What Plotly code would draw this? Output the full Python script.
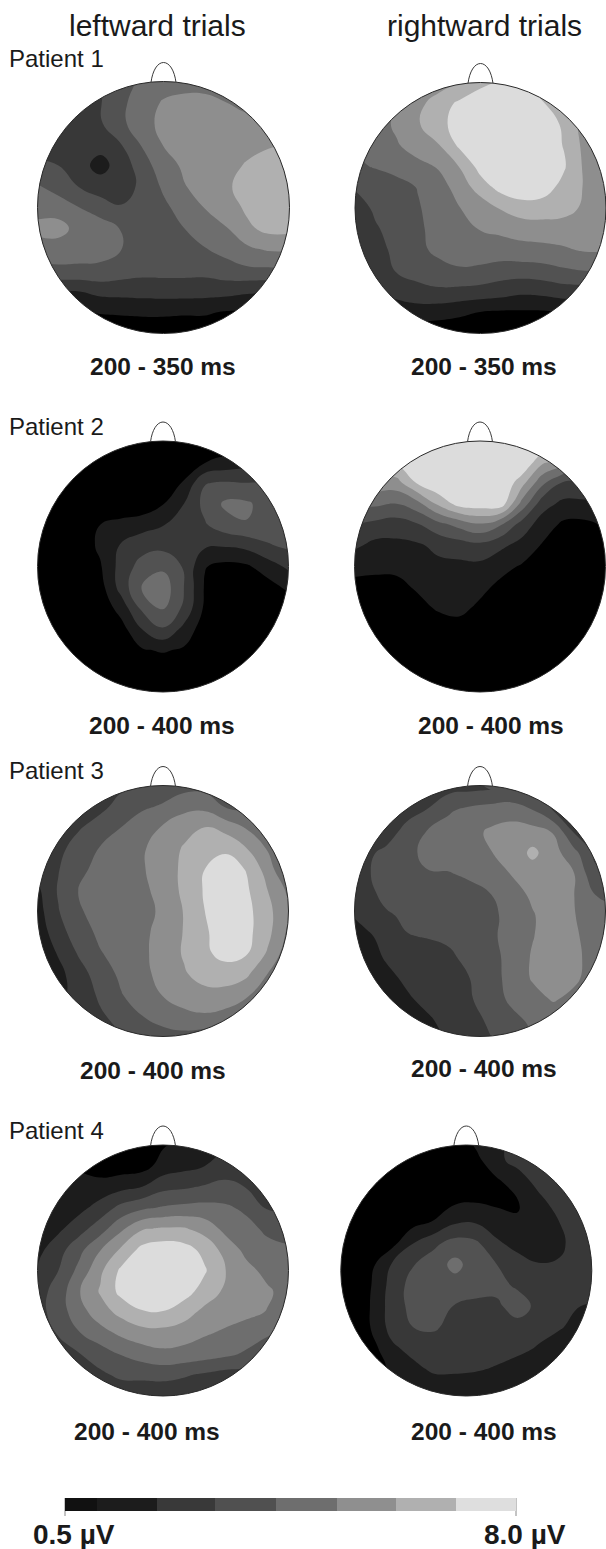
import math
import plotly.graph_objects as go

BAND_COLORS = ["#000000", "#1c1c1c", "#383838", "#525252", "#6e6e6e", "#8e8e8e", "#b0b0b0", "#dcdcdc"]
BAR_COLORS = ["#111111", "#1c1c1c", "#393939", "#505050", "#6e6e6e", "#8f8f8f", "#b0b0b0", "#dedede"]
BAR_EDGES = [65, 97, 157, 215, 276, 337, 396, 456, 516]
BAR_LABELS = ["0.5 µV", "8.0 µV"]
COLUMN_TITLES = ["leftward trials", "rightward trials"]
PATIENTS = ["Patient 1", "Patient 2", "Patient 3", "Patient 4"]
WINDOWS = ["200 - 350 ms", "200 - 350 ms", "200 - 400 ms", "200 - 400 ms",
           "200 - 400 ms", "200 - 400 ms", "200 - 400 ms", "200 - 400 ms"]

P1_LEFT = [
 [2.5,2.5,2.5,2.8,3.5,4.2,4.5,4.6,4.7,4.6,4.5,4.5,4.5],
 [2.4,2.4,2.4,2.95,3.8,4.5,5.1,5.3,5.2,5.0,4.7,4.6,4.6],
 [2.3,2.3,2.3,2.9,3.8,4.6,5.3,5.5,5.6,5.6,5.3,5.3,5.3],
 [2.5,2.3,2.2,2.3,3.0,4.1,5.05,5.4,5.6,5.7,5.7,5.9,6.0],
 [3.2,3.0,2.3,1.7,2.4,3.6,4.5,5.2,5.5,5.7,6.1,6.4,6.5],
 [4.1,3.6,2.95,2.4,2.4,3.3,4.15,4.95,5.4,5.85,6.4,6.6,6.6],
 [4.6,4.5,4.0,3.6,3.1,3.3,3.8,4.4,5.05,5.5,6.2,6.6,6.6],
 [5.3,5.4,4.6,4.4,3.95,3.4,3.4,4.0,4.5,4.95,5.8,6.3,6.3],
 [4.5,4.5,4.4,4.3,4.0,3.4,3.3,3.5,3.95,4.3,4.8,5.1,5.1],
 [3.7,3.8,3.8,3.8,3.5,3.3,3.3,3.3,3.3,3.6,3.8,3.8,3.9],
 [2.0,2.0,2.0,2.3,2.35,2.4,2.45,2.45,2.4,2.35,2.15,2.1,2.1],
 [0.9,0.9,0.9,1.05,1.1,1.15,1.15,1.1,1.1,0.9,0.9,0.9,0.9],
 [0.4,0.4,0.4,0.4,0.4,0.4,0.4,0.4,0.4,0.4,0.4,0.4,0.4],
]
P1_RIGHT = [
 [4.5,4.5,4.8,5.2,5.5,6.0,6.8,7.1,7.0,6.5,6.0,5.8,5.8],
 [4.5,4.6,5.0,5.7,6.5,7.2,7.5,7.6,7.5,7.05,6.3,5.8,5.7],
 [4.2,4.5,5.2,5.9,6.7,7.4,7.6,7.7,7.7,7.5,6.85,5.5,5.5],
 [4.1,4.3,4.9,5.5,5.95,7.2,7.6,7.7,7.7,7.5,6.95,5.7,5.6],
 [3.8,4.1,4.4,4.7,5.1,6.05,7.4,7.7,7.7,7.5,7.1,5.8,5.6],
 [3.1,3.3,3.6,4.05,4.6,5.4,6.5,7.4,7.6,7.4,6.7,5.9,5.7],
 [2.5,3.2,3.6,3.9,4.5,4.98,5.4,6.1,6.6,6.6,6.4,5.8,5.6],
 [2.3,2.9,3.4,3.85,4.3,4.7,5.05,5.2,5.4,5.5,5.5,5.4,5.4],
 [2.0,2.6,3.3,3.8,4.2,4.4,4.5,4.6,4.7,4.75,4.9,5.1,5.1],
 [2.0,2.1,3.1,3.4,3.7,3.9,3.8,3.5,3.5,3.6,3.85,4.0,4.0],
 [2.0,2.0,2.3,2.65,2.8,2.7,2.6,2.45,2.2,2.3,2.5,2.5,2.5],
 [1.5,1.5,1.5,1.5,1.4,1.2,0.95,0.85,0.85,0.85,1.0,1.0,1.0],
 [0.3,0.3,0.3,0.3,0.3,0.3,0.3,0.3,0.3,0.3,0.3,0.3,0.3],
]
P2_LEFT = [
 [0.3,0.3,0.3,0.3,0.3,0.3,0.3,0.3,0.3,0.3,0.3,0.3,0.3],
 [0.3,0.3,0.3,0.3,0.3,0.3,0.3,0.3,0.95,1.3,1.6,1.6,1.6],
 [0.3,0.3,0.3,0.3,0.3,0.3,0.3,1.1,2.95,3.1,3.0,3.1,3.1],
 [0.3,0.3,0.3,0.3,0.3,0.3,0.95,2.0,3.3,4.2,4.15,3.6,3.6],
 [0.3,0.3,0.3,1.0,1.3,1.6,1.95,2.4,2.9,3.6,3.95,3.6,3.5],
 [0.3,0.3,0.4,1.2,2.1,2.6,2.7,2.8,2.15,2.1,2.3,2.9,3.2],
 [0.3,0.3,0.3,0.9,2.4,3.4,3.8,2.9,1.05,0.7,0.85,1.5,2.2],
 [0.3,0.3,0.3,0.6,2.4,4.05,4.6,3.0,0.9,0.3,0.3,0.6,1.2],
 [0.3,0.3,0.3,0.3,1.4,3.2,4.05,2.8,0.8,0.3,0.3,0.3,0.3],
 [0.3,0.3,0.3,0.3,0.6,2.0,2.9,1.7,0.4,0.3,0.3,0.3,0.3],
 [0.3,0.3,0.3,0.3,0.3,0.9,1.1,0.85,0.3,0.3,0.3,0.3,0.3],
 [0.3,0.3,0.3,0.3,0.3,0.3,0.3,0.3,0.3,0.3,0.3,0.3,0.3],
 [0.3,0.3,0.3,0.3,0.3,0.3,0.3,0.3,0.3,0.3,0.3,0.3,0.3],
]
P2_RIGHT = [
 [7,8,8,8,8,8,8,8,8,8,7,6,5],
 [7,7,7.2,8,8,8,8,8,8,6.2,5.5,4,3],
 [5.6,5.6,5.6,7.1,7.9,8,8,8,6.4,4.2,2.85,2.8,2.8],
 [4.2,4.2,4.0,4.65,6.2,7.4,7.6,7.6,4.65,2.4,1.75,1.8,1.8],
 [3,2.7,2.5,2.9,3.65,4.3,4.85,4.05,2.55,1.5,0.8,0.75,1.1],
 [2.2,1.7,1.75,1.85,2.25,2.5,2.7,2.2,1.65,0.9,0.3,0.3,0.5],
 [1.2,1.2,1.2,1.5,1.75,1.75,1.75,1.3,0.9,0.4,0.3,0.3,0.3],
 [0.8,0.7,0.75,1.1,1.35,1.5,1.25,0.75,0.4,0.3,0.3,0.3,0.3],
 [0.4,0.4,0.4,0.7,1.1,1.25,0.8,0.4,0.3,0.3,0.3,0.3,0.3],
 [0.3,0.3,0.3,0.3,0.5,0.6,0.3,0.3,0.3,0.3,0.3,0.3,0.3],
 [0.3,0.3,0.3,0.3,0.3,0.3,0.3,0.3,0.3,0.3,0.3,0.3,0.3],
 [0.3,0.3,0.3,0.3,0.3,0.3,0.3,0.3,0.3,0.3,0.3,0.3,0.3],
 [0.3,0.3,0.3,0.3,0.3,0.3,0.3,0.3,0.3,0.3,0.3,0.3,0.3],
]
P3_LEFT = [
 [2,2,2,2.5,2.8,3.1,3.5,3.6,3.6,3.5,3.3,3.2,3],
 [2.3,2.3,2.3,2.7,3.4,3.85,4.1,4.7,4.7,3.9,3.5,3.4,3.3],
 [2.2,2.3,2.9,3.5,4.0,4.5,5.1,5.6,6.0,5.6,4.9,3.6,3.3],
 [2.3,2.7,3.5,4.05,4.5,4.9,5.4,6.1,6.5,6.85,6.0,4.9,3.9],
 [2.4,2.95,3.85,4.2,4.5,4.9,5.5,6.2,7.0,7.4,6.95,5.55,3.8],
 [1.8,3.1,4.05,4.3,4.5,4.75,5.4,6.2,7.1,7.5,7.15,6.0,4.8],
 [1.6,2.95,3.95,4.2,4.4,4.65,5.2,6.05,7.0,7.5,7.3,6.3,5.1],
 [1.4,2.6,3.6,4.2,4.5,4.8,5.3,6.05,6.9,7.4,7.3,6.3,4.8],
 [1.2,2.1,3.15,3.95,4.35,4.8,5.4,6.1,6.85,7.3,7.1,5.9,4.4],
 [1.0,1.7,2.6,3.5,4.2,4.75,5.3,5.9,6.4,6.6,6.2,5.0,3.9],
 [1.5,1.8,2.3,3.2,3.95,4.5,5.05,5.5,5.7,5.6,5.2,3.9,3.5],
 [2,2,2.3,2.85,3.4,4.0,4.45,4.75,4.9,4.7,4.0,3.4,3.2],
 [2.5,2.5,2.5,2.7,2.9,3.2,3.6,3.7,3.5,3.3,3,3,3],
]
P3_RIGHT = [
 [2.5,2.5,2.5,2.5,2.6,2.8,3,3.1,3.1,3,2.8,2.6,2.5,2.5],
 [2.5,2.5,2.5,2.6,2.7,2.8,2.9,3.0,3.0,2.9,2.8,2.7,2.6,2.5],
 [2.6,2.6,2.6,2.7,3.05,3.9,4.3,4.5,4.7,4.1,3.0,2.9,2.8,2.8],
 [2.7,2.7,2.6,3.3,4.1,4.4,4.7,5.15,5.3,5.4,4.95,2.9,2.8,2.8],
 [2.7,2.8,3.2,3.8,4.2,4.4,4.7,4.97,5.3,6.25,5.4,4.3,2.8,2.8],
 [2.8,2.85,3.4,3.7,3.95,3.95,4.15,4.5,5.05,5.5,5.6,5.0,3.2,3.0],
 [2.0,2.6,3.3,3.5,3.5,3.55,3.7,3.98,4.5,5.2,5.6,5.0,4.0,3.8],
 [1.8,2.3,2.85,3.2,3.3,3.35,3.5,3.8,4.3,4.9,5.6,5.05,4.3,4.2],
 [1.6,1.8,2.3,2.95,3.05,3.2,3.5,3.85,4.3,4.95,5.5,5.2,4.4,4.3],
 [1.4,1.5,2.1,2.4,2.6,2.8,3.3,3.7,4.3,5.1,5.5,5.3,4.5,4.3],
 [1.3,1.3,1.7,2.2,2.5,2.75,3.0,3.65,4.3,5.1,5.5,5.2,4.5,4.3],
 [1.3,1.3,1.5,1.85,2.3,2.65,2.9,3.5,4.2,4.6,5.1,4.7,4.4,4.3],
 [1.3,1.3,1.3,1.5,1.85,2.35,2.7,3.15,3.7,4.2,4.3,4.3,4.3,4.3],
 [1.3,1.3,1.3,1.3,1.6,2.1,2.5,2.95,3.5,3.8,4.0,4.0,4.0,4.0],
]
P4_LEFT = [
 [1.2,1.2,1.2,1.1,0.8,0.7,0.9,1.3,1.6,2,2.3,2.5,2.5],
 [1.1,1.1,0.9,0.5,0.5,0.6,1.4,1.7,2.0,2.4,2.7,2.9,2.9],
 [1.3,1.3,1.3,1.4,1.7,2.0,2.7,2.85,3.1,3.3,2.95,2.8,2.6],
 [1.6,1.6,1.7,2.4,3.3,3.8,4.1,4.25,4.3,4.15,3.8,2.9,2.8],
 [1.5,1.8,2.6,3.55,4.8,5.9,6.1,6.1,5.6,4.7,4.3,3.8,3.7],
 [1.7,2.6,3.7,4.95,6.15,7.3,7.6,7.4,6.7,5.6,4.7,4.3,4.1],
 [2.1,3.0,4.3,5.8,7.2,7.8,7.9,7.8,7.1,6.0,5.3,4.7,4.3],
 [2.6,3.4,4.95,6.1,7.3,7.8,7.8,7.4,6.6,5.8,5.5,5.15,4.6],
 [2.6,3.5,4.6,5.55,6.3,6.9,6.95,6.45,5.7,5.4,5.25,4.95,4.3],
 [2.3,3.1,3.95,4.6,5.2,5.6,5.65,5.45,5.1,4.85,4.5,4.2,3.7],
 [2,2.4,2.95,3.5,4.05,4.45,4.75,4.65,4.45,4.2,3.85,3,2.8],
 [2,2.2,2.3,2.8,3.2,3.25,3.3,3.1,2.85,2.6,2.5,2.5,2.4],
 [2.3,2.3,2.3,2.3,2.3,2.3,2.3,2.3,2.3,2.3,2.3,2.3,2.3],
]
P4_RIGHT = [
 [0.3,0.3,0.3,0.3,0.3,0.3,0.5,1.3,1.8,2.2,2.4,2.4,2.4,2.4],
 [0.3,0.3,0.3,0.3,0.3,0.3,0.3,0.7,1.8,2.3,2.5,2.5,2.5,2.5],
 [0.3,0.3,0.3,0.3,0.3,0.3,0.3,0.3,0.85,1.6,2.3,2.5,2.5,2.5],
 [0.3,0.3,0.3,0.3,0.3,0.3,0.85,0.95,0.85,0.95,1.75,2.4,2.6,2.6],
 [0.3,0.3,0.3,0.3,0.7,1.1,1.9,1.95,1.4,1.05,1.35,2.0,2.5,2.6],
 [0.3,0.3,0.3,0.7,2.0,2.8,3.4,3.2,2.2,1.6,1.45,1.8,2.5,2.6],
 [0.3,0.3,0.75,2.1,2.95,3.5,4.3,3.5,3.0,2.5,2.05,2.1,2.6,2.7],
 [0.3,0.3,1.0,2.4,3.4,3.6,3.6,3.5,3.3,2.85,2.7,2.7,2.7,2.7],
 [0.3,0.3,1.05,2.5,3.3,3.3,2.95,2.7,2.8,3.5,2.7,2.3,2.0,1.9],
 [0.3,0.3,1.05,2.4,3.0,3.15,2.6,2.5,2.6,2.6,2.4,2.1,1.6,1.6],
 [0.3,0.3,0.6,1.8,2.35,2.4,2.4,2.4,2.4,2.3,1.9,1.4,1.4,1.4],
 [0.3,0.3,0.6,1.2,1.7,2.2,2.2,2.1,1.9,1.5,1.3,1.3,1.3,1.3],
 [0.3,0.3,1.3,1.3,1.3,1.3,1.3,1.3,1.3,1.3,1.3,1.3,1.3,1.3],
 [0.3,0.3,1.3,1.3,1.3,1.3,1.3,1.3,1.3,1.3,1.3,1.3,1.3,1.3],
]

MAPS = [P1_LEFT, P1_RIGHT, P2_LEFT, P2_RIGHT, P3_LEFT, P3_RIGHT, P4_LEFT, P4_RIGHT]

# head centre x, centre y, radius, grid start (in radii)
HEADS = [
    (163.5, 207.5, 126, -1.0, -1.0), (480.5, 208, 125.5, -1.0, -1.0),
    (163, 566.5, 125.5, -1.0, -1.0), (480, 566.5, 125.5, -1.0, -1.0),
    (163, 911, 125.5, -1.0, -1.0), (480, 911, 125.5, -1.082, -1.13),
    (163, 1270.5, 125.5, -1.0, -1.0), (466.3, 1270.5, 125.5, -1.09, -1.048),
]
WINDOW_POS = [(163, 366), (484, 366), (162, 725), (491, 725), (153, 1070), (484, 1068), (147, 1431), (484, 1431)]
PATIENT_Y = [58, 426, 770, 1130]
STEP = 1 / 6

n = len(BAND_COLORS)
SCALE = [[k / (n - 1), c] for k, c in enumerate(BAND_COLORS)]
BAR_SCALE = [[k / (n - 1), c] for k, c in enumerate(BAR_COLORS)]

fig = go.Figure()
shapes = []
annotations = []
INK = "#1a1a1a"
FONT = "Liberation Sans"


def head_mask(cx, cy, r, pad=30):
    """White frame with a round window, drawn as one keyhole outline."""
    x0, x1, y0, y1 = cx - r - pad, cx + r + pad, cy - r - pad, cy + r + pad
    pts = [f"M {x0},{y0}", f"L {x1},{y0}", f"L {x1},{y1}", f"L {x0},{y1}", f"L {x0},{cy}"]
    for i in range(181):
        a = math.pi - 2 * math.pi * i / 180
        pts.append(f"L {cx + r * math.cos(a):.2f},{cy + r * math.sin(a):.2f}")
    pts.append(f"L {x0},{cy} Z")
    return " ".join(pts)


for z, (cx, cy, r, ux, uy) in zip(MAPS, HEADS):
    xs = [cx + (ux + i * STEP) * r for i in range(len(z[0]))]
    ys = [cy + (uy + j * STEP) * r for j in range(len(z))]
    fig.add_trace(go.Contour(
        x=xs, y=ys, z=z, colorscale=SCALE, showscale=False, hoverinfo="skip",
        autocontour=False,
        contours=dict(start=1, end=7, size=1, coloring="fill", showlines=False),
        line=dict(width=0, smoothing=1.3),
    ))
    shapes.append(dict(type="path", path=head_mask(cx, cy, r), fillcolor="white",
                       line=dict(width=0), layer="above"))

for cx, cy, r, _, _ in HEADS:
    shapes.append(dict(type="circle", x0=cx-r, x1=cx+r, y0=cy-r, y1=cy+r,
                       line=dict(color="#2a2a2a", width=1), layer="above"))
    top = cy - r + 1
    nose = (f"M {cx-12.5},{top} C {cx-11},{top-12} {cx-6},{top-20} {cx},{top-20} "
            f"C {cx+6},{top-20} {cx+11},{top-12} {cx+12.5},{top}")
    shapes.append(dict(type="path", path=nose, line=dict(color="#3a3a3a", width=1), layer="above"))

fig.add_trace(go.Heatmap(
    x=BAR_EDGES, y=[1498, 1511], z=[list(range(len(BAR_COLORS)))],
    colorscale=BAR_SCALE, zmin=0, zmax=len(BAR_COLORS) - 1, showscale=False, hoverinfo="skip",
))
for xe in (BAR_EDGES[0], BAR_EDGES[-1]):
    shapes.append(dict(type="line", x0=xe, x1=xe, y0=1498, y1=1516, line=dict(color="#888888", width=1), layer="below"))


def note(text, x, y, size, bold=False, anchor="center"):
    annotations.append(dict(
        text=f"<b>{text}</b>" if bold else text, x=x, y=y, xref="x", yref="y",
        xanchor=anchor, yanchor="middle", showarrow=False,
        font=dict(family=FONT, size=size, color=INK),
    ))


for title, x in zip(COLUMN_TITLES, (157, 484)):
    note(title, x, 25, 30)
for label, y in zip(PATIENTS, PATIENT_Y):
    note(label, 7, y, 24, anchor="left")
for label, (x, y) in zip(WINDOWS, WINDOW_POS):
    note(label, x, y, 24.5, bold=True)
note(BAR_LABELS[0], 31, 1534, 28, bold=True, anchor="left")
note(BAR_LABELS[1], 482, 1534, 28, bold=True, anchor="left")

fig.update_layout(
    width=606, height=1549, margin=dict(l=0, r=0, t=0, b=0),
    paper_bgcolor="white", plot_bgcolor="white", showlegend=False,
    xaxis=dict(range=[0, 606], visible=False, fixedrange=True),
    yaxis=dict(range=[1549, 0], visible=False, fixedrange=True),
    shapes=shapes, annotations=annotations,
)
fig.write_html("out.html", config=dict(displayModeBar=False),
               post_script="document.body.style.margin='0';document.body.style.overflow='hidden';")
